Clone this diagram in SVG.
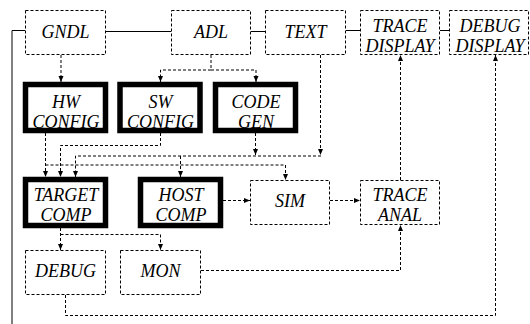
<svg xmlns="http://www.w3.org/2000/svg" width="530" height="324" viewBox="0 0 530 324">
<style>
.dbox{fill:#fff;stroke:#000;stroke-width:1;stroke-dasharray:3,2}
.tbox{fill:#fff;stroke:#000;stroke-width:5.5}
.t{font-family:"Liberation Serif","Times New Roman",serif;font-style:italic;font-size:18px;text-anchor:middle;fill:#000}
.c{fill:none;stroke:#000;stroke-width:1;stroke-dasharray:3,2}
.s{fill:none;stroke:#000;stroke-width:1}
</style>
<defs>
<marker id="ah" markerUnits="userSpaceOnUse" markerWidth="7" markerHeight="6" refX="6" refY="2.5" orient="auto">
<path d="M0,0 L6,2.5 L0,5 z" fill="#000"/>
</marker>
</defs>
<rect width="530" height="324" fill="#fff"/>
<g id="connectors">
<path class="s" d="M25,30.5 H12 V324"/>
<path class="s" d="M106,31.5 H171"/>
<path class="s" d="M251,31.5 H265"/>
<path class="s" d="M346,30.5 H360"/>
<path class="s" d="M440,30.5 H449"/>
<path class="c" d="M61,55 V82" marker-end="url(#ah)"/>
<path class="c" d="M211,55 V70 H160.5 V82" marker-end="url(#ah)"/>
<path class="c" d="M211,70 H256 V82" marker-end="url(#ah)"/>
<path class="c" d="M45.5,133 V177" marker-end="url(#ah)"/>
<path class="c" d="M160.5,133 V145.5 H60.5 V177" marker-end="url(#ah)"/>
<path class="c" d="M255.5,133 V155" marker-end="url(#ah)"/>
<path class="c" d="M320.5,55 V155" marker-end="url(#ah)"/>
<path class="c" d="M321,156 H75.5 V177" marker-end="url(#ah)"/>
<path class="c" d="M180.5,156 V177" marker-end="url(#ah)"/>
<path class="c" d="M45.5,165 H285.5 V180" marker-end="url(#ah)"/>
<path class="c" d="M223,200.5 H250" marker-end="url(#ah)"/>
<path class="c" d="M330,200.5 H360" marker-end="url(#ah)"/>
<path class="c" d="M400.5,180 V55" marker-end="url(#ah)"/>
<path class="c" d="M60.5,228 V250" marker-end="url(#ah)"/>
<path class="c" d="M60.5,234.5 H160.5 V250" marker-end="url(#ah)"/>
<path class="c" d="M201,270.5 H400.5 V225" marker-end="url(#ah)"/>
<path class="c" d="M65.5,295 V315.5 H495.5 V55" marker-end="url(#ah)"/>
</g>
<g id="gndl"><rect class="dbox" x="25.5" y="10.5" width="80" height="44"/><text class="t" x="65.5" y="37.5">GNDL</text></g>
<g id="adl"><rect class="dbox" x="171.5" y="10.5" width="79" height="44"/><text class="t" x="211" y="37.5">ADL</text></g>
<g id="text"><rect class="dbox" x="265.5" y="10.5" width="80" height="44"/><text class="t" x="305.5" y="37.5">TEXT</text></g>
<g id="trace-display"><rect class="dbox" x="360.5" y="10.5" width="79" height="44"/><text class="t" x="400" y="31.5">TRACE</text><text class="t" x="400" y="51.5">DISPLAY</text></g>
<g id="debug-display"><rect class="dbox" x="449.5" y="10.5" width="79" height="44"/><text class="t" x="490" y="31.5">DEBUG</text><text class="t" x="490" y="51.5">DISPLAY</text></g>
<g id="hw-config"><rect class="tbox" x="25.5" y="84.5" width="80" height="46"/><text class="t" x="66" y="107.5">HW</text><text class="t" x="66" y="127.5">CONFIG</text></g>
<g id="sw-config"><rect class="tbox" x="120" y="84.5" width="80" height="46"/><text class="t" x="160.5" y="107.5">SW</text><text class="t" x="160.5" y="127.5">CONFIG</text></g>
<g id="code-gen"><rect class="tbox" x="215.5" y="84.5" width="80" height="46"/><text class="t" x="256" y="107.5">CODE</text><text class="t" x="256" y="127.5">GEN</text></g>
<g id="target-comp"><rect class="tbox" x="25.5" y="179.5" width="80" height="46"/><text class="t" x="66" y="200.5">TARGET</text><text class="t" x="66" y="221">COMP</text></g>
<g id="host-comp"><rect class="tbox" x="140.5" y="179.5" width="80" height="46"/><text class="t" x="181" y="200.5">HOST</text><text class="t" x="181" y="221">COMP</text></g>
<g id="sim"><rect class="dbox" x="250.5" y="180.5" width="79" height="44"/><text class="t" x="290" y="207">SIM</text></g>
<g id="trace-anal"><rect class="dbox" x="360.5" y="180.5" width="79" height="44"/><text class="t" x="400" y="200.5">TRACE</text><text class="t" x="400" y="221">ANAL</text></g>
<g id="debug"><rect class="dbox" x="25.5" y="250.5" width="80" height="44"/><text class="t" x="65.5" y="277">DEBUG</text></g>
<g id="mon"><rect class="dbox" x="120.5" y="250.5" width="80" height="44"/><text class="t" x="160.5" y="277">MON</text></g>
</svg>
